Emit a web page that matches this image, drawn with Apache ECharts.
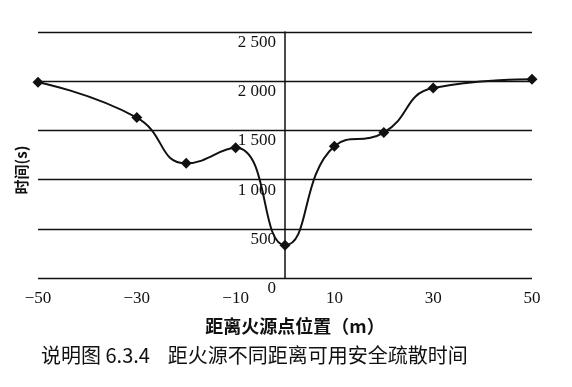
<!DOCTYPE html>
<html><head><meta charset="utf-8">
<script src="https://cdn.jsdelivr.net/npm/echarts@6/dist/echarts.min.js"></script>
<style>html,body{margin:0;padding:0;background:#fff}#c{width:572px;height:387px}</style>
</head><body><div id="c"></div>
<script>
const distances = [-50, -30, -20, -10, 0, 10, 20, 30, 50];
const times = [1990, 1630, 1165, 1323, 334, 1340, 1478, 1930, 2020];
const xTickValues = [-50, -30, -10, 10, 30, 50];
const xTickLabels = ['−50', '−30', '−10', '10', '30', '50'];
const yTickValues = [0, 500, 1000, 1500, 2000, 2500];
const yTickLabels = ['0', '500', '1 000', '1 500', '2 000', '2 500'];
const xTitle = '距离火源点位置（m）';
const yTitle = '时间(s)';
const caption = '说明图 6.3.4    距火源不同距离可用安全疏散时间';

const chart = echarts.init(document.getElementById('c'));
const serif = '"Liberation Serif", "Times New Roman", serif';
const gridLeft = 38, gridWidth = 494;
chart.setOption({
  animation: false,
  backgroundColor: '#fff',
  grid: {left: gridLeft, width: gridWidth, top: 32, bottom: 109, containLabel: false, outerBoundsMode: 'none'},
  title: {
    text: caption, left: 36, top: 340,
    textStyle: {fontFamily: '"Noto Sans CJK SC"', fontSize: 20, fontWeight: 'normal', color: '#111'}
  },
  graphic: [{
    type: 'text', x: 21, y: 170, rotation: Math.PI / 2,
    style: {text: yTitle, font: 'bold 15px "Noto Sans CJK SC"', fill: '#111', align: 'center', verticalAlign: 'middle'}
  }],
  xAxis: {
    type: 'value', min: -50, max: 50, interval: 10,
    name: xTitle, nameLocation: 'middle', nameGap: 39,
    nameTextStyle: {fontFamily: '"Noto Sans CJK SC"', fontSize: 18, color: '#111', fontWeight: 'bold', padding: [0, 0, 0, 20]},
    axisLine: {show: false}, axisTick: {show: false}, splitLine: {show: false},
    axisLabel: {
      margin: 12, fontFamily: serif, fontSize: 17, color: '#111', showMinLabel: true, showMaxLabel: true,
      formatter: v => { const i = xTickValues.indexOf(v); return i >= 0 ? xTickLabels[i] : ''; }
    }
  },
  yAxis: {
    type: 'value', min: 0, max: 2500, interval: 500,
    offset: -gridWidth / 2,
    axisLine: {show: true, onZero: false, lineStyle: {color: '#111', width: 1.5}},
    axisTick: {show: false},
    splitLine: {show: true, lineStyle: {color: '#111', width: 1.3}},
    axisLabel: {
      margin: 9, fontFamily: serif, fontSize: 17, color: '#111', verticalAlign: 'top', padding: [2, 0, 0, 0],
      formatter: v => { const i = yTickValues.indexOf(v); return i >= 0 ? yTickLabels[i] : ''; }
    }
  },
  series: [{
    type: 'line', smooth: 0.5,
    data: distances.map((d, i) => [d, times[i]]),
    symbol: 'diamond', symbolSize: 11,
    itemStyle: {color: '#111'},
    lineStyle: {color: '#111', width: 2}
  }]
});
</script></body></html>
